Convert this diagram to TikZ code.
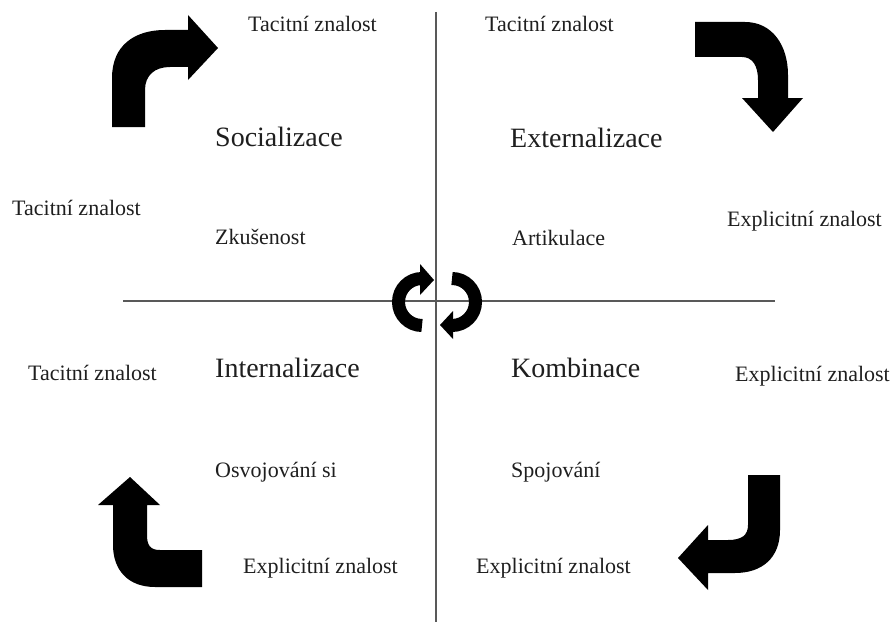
\documentclass[tikz,border=0pt]{standalone}
\usepackage{fontspec}
\setmainfont{Liberation Serif}
\begin{document}
\begin{tikzpicture}[x=1pt,y=-1pt,
  lbl/.style={anchor=base west, inner sep=0pt, font=\fontsize{22}{26}\selectfont, text=black!88},
  ttl/.style={anchor=base west, inner sep=0pt, font=\fontsize{28}{32}\selectfont, text=black!88},
  axisline/.style={draw=black!65, line width=1.3pt},
  bigarrow/.style={fill=black, draw=none},
  ringarrow/.style={draw=black, line width=13pt}]
\useasboundingbox (0,0) rectangle (891,626);
\fill[white] (0,0) rectangle (891,626);

% axes
\coordinate (vtop) at (436,12);
\coordinate (vbot) at (436,622);
\coordinate (hleft) at (123,301);
\coordinate (hright) at (775,301);
\draw[axisline] (vtop) -- (vbot);
\draw[axisline] (hleft) -- (hright);

% labels
\node[lbl] (t1) at (248,32) {Tacitní znalost};
\node[lbl] (t2) at (485,32) {Tacitní znalost};
\node[ttl] (soc) at (215,146) {Socializace};
\node[ttl] (ext) at (510,147) {Externalizace};
\node[lbl] (t3) at (12,215) {Tacitní znalost};
\node[lbl] (e1) at (727,226) {Explicitní znalost};
\node[lbl] (zk) at (215,244) {Zkušenost};
\node[lbl] (ar) at (512,245) {Artikulace};
\node[lbl] (t4) at (28,380) {Tacitní znalost};
\node[ttl] (int) at (215,377) {Internalizace};
\node[ttl] (kom) at (511,377) {Kombinace};
\node[lbl] (e2) at (735,381) {Explicitní znalost};
\node[lbl] (osv) at (215,477) {Osvojování si};
\node[lbl] (spo) at (511,477) {Spojování};
\node[lbl] (e3) at (243,573) {Explicitní znalost};
\node[lbl] (e4) at (476,573) {Explicitní znalost};

% top-left bent arrow (up then right)
\fill[bigarrow] (112,127) -- (112,78) .. controls (112,45) and (135,30) .. (165,30)
  -- (188,30) -- (188,15) -- (218,48) -- (188,80) -- (188,67) -- (170,67)
  .. controls (155,67) and (145,75) .. (145,90) -- (145,127) -- cycle;

% top-right bent arrow (right then down)
\fill[bigarrow] (695,22) -- (745,22) .. controls (772,22) and (788,45) .. (788,75)
  -- (788,98) -- (803,98) -- (773,132) -- (742,98) -- (758,98) -- (758,80)
  .. controls (758,65) and (752,57) .. (742,57) -- (695,57) -- cycle;

% bottom-right bent arrow (down then left)
\fill[bigarrow] (748,475) -- (780,475) -- (780,530) .. controls (780,558) and (762,573) .. (735,573)
  -- (708,573) -- (708,590) -- (678,558) -- (708,525) -- (708,540) -- (728,540)
  .. controls (742,540) and (748,535) .. (748,525) -- cycle;

% bottom-left bent arrow (left then up)
\fill[bigarrow] (130,477) -- (160,505) -- (147,505) -- (147,535)
  .. controls (147,545) and (150,550) .. (160,550) -- (202,550) -- (202,587) -- (155,587)
  .. controls (128,587) and (113,570) .. (113,545) -- (113,505) -- (98,505) -- cycle;

% central circular arrows
\coordinate (lc) at (422,302);
\coordinate (rc) at (452,302);
\draw[ringarrow] ([shift={(lc)}]90:23.5pt) arc[start angle=90, end angle=270, radius=23.5pt];
\fill[bigarrow] (420,264) -- (434,280) -- (420,295) -- cycle;
\draw[ringarrow] ([shift={(rc)}]90:23.5pt) arc[start angle=90, end angle=-90, radius=23.5pt];
\fill[bigarrow] (453,311) -- (440,325) -- (453,339) -- cycle;
\end{tikzpicture}
\end{document}
